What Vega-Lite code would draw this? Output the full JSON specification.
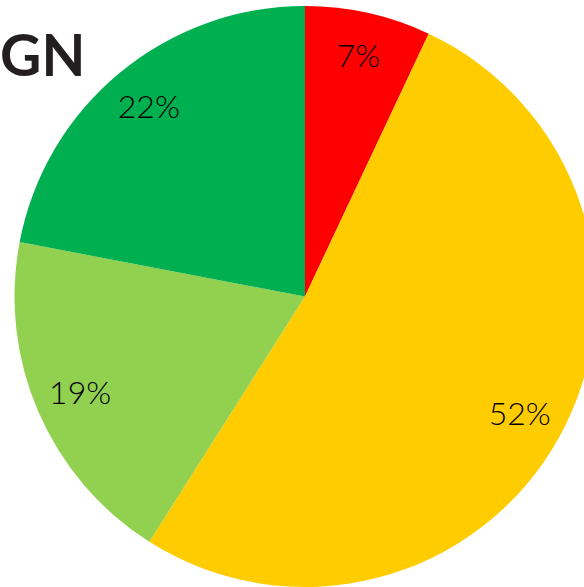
{
  "$schema": "https://vega.github.io/schema/vega-lite/v6.json",
  "width": 558,
  "height": 581,
  "autosize": "none",
  "padding": {"left": 26, "top": 6, "right": 0, "bottom": 0},
  "background": "white",
  "title": {
    "text": "GN",
    "anchor": "start",
    "frame": "group",
    "orient": "top",
    "offset": -70,
    "baseline": "alphabetic",
    "dx": -26,
    "dy": 57,
    "font": "Lato",
    "fontSize": 57,
    "fontWeight": "bold",
    "color": "#231F20"
  },
  "data": {
    "values": [
      {"category": "Red", "order": 1, "share": 7, "label": "7%"},
      {"category": "Yellow", "order": 2, "share": 52, "label": "52%"},
      {"category": "Light green", "order": 3, "share": 19, "label": "19%"},
      {"category": "Green", "order": 4, "share": 22, "label": "22%"}
    ]
  },
  "encoding": {
    "theta": {"field": "share", "type": "quantitative", "stack": true},
    "order": {"field": "order", "type": "quantitative"}
  },
  "layer": [
    {
      "mark": {"type": "arc", "outerRadius": 290.5},
      "encoding": {
        "color": {
          "field": "category",
          "type": "nominal",
          "scale": {
            "domain": ["Red", "Yellow", "Light green", "Green"],
            "range": ["#FF0000", "#FFCC00", "#92D050", "#00B050"]
          },
          "legend": null
        }
      }
    },
    {
      "mark": {
        "type": "text",
        "radius": 245,
        "align": "center",
        "baseline": "middle",
        "font": "Lato",
        "fontSize": 32,
        "fontWeight": 300,
        "color": "#000000"
      },
      "encoding": {
        "text": {"field": "label", "type": "nominal"}
      }
    }
  ]
}
